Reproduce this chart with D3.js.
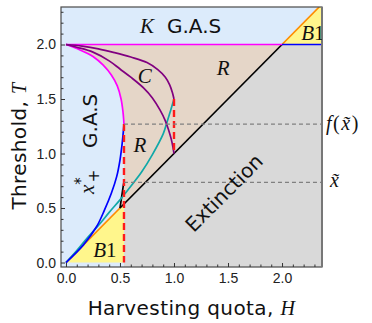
<!DOCTYPE html>
<html>
<head>
<meta charset="utf-8">
<script src="https://cdn.jsdelivr.net/npm/d3@7"></script>
<style>
  body { margin: 0; background: #fff; }
  text { font-family: "DejaVu Sans", sans-serif; fill: #111; }
  .math { font-family: "Liberation Serif", serif; font-style: italic; }
  .tick text { font-family: "Liberation Sans", sans-serif; font-size: 14px; fill: #222; }
</style>
</head>
<body>
<div id="container"></div>
<script>
// window size
let cwW = 372;
let cwH = 323;

// frame of the plot (pixels)
const fL = 61, fR = 322, fT = 7, fB = 267;

/**************************
* Data (H, T)
**************************/
const magentaCurve = [[0,2],[0.13,1.95],[0.25,1.89],[0.345,1.81],[0.42,1.72],[0.475,1.62],[0.51,1.5],[0.528,1.38],[0.535,1.30],[0.537,1.27]];
const blueCurve = [[0,0],[0.16,0.16],[0.284,0.33],[0.356,0.48],[0.42,0.635],[0.47,0.79],[0.5,0.94],[0.52,1.09],[0.537,1.27]];
const tealCurve = [[0,0],[0.1,0.11],[0.2,0.23],[0.3,0.34],[0.4,0.46],[0.5,0.575],[0.6,0.70],[0.7,0.83],[0.8,0.99],[0.9,1.18],[0.93,1.27],[0.97,1.40],[1.0,1.5]];
const purpleOuter = [[0,2],[0.15,1.985],[0.3,1.96],[0.45,1.925],[0.6,1.885],[0.75,1.835],[0.85,1.77],[0.92,1.70],[0.96,1.63],[0.985,1.56],[1.0,1.5]];
const purpleInner = [[0,2],[0.1,1.975],[0.25,1.93],[0.4,1.85],[0.5,1.775],[0.6,1.70],[0.72,1.60],[0.8,1.51],[0.87,1.40],[0.92,1.30],[0.95,1.215],[0.975,1.13],[0.99,1.06],[1.0,1.0]];
const blackKink = [[0.5,0.5],[0.53,0.7],[0.537,0.74]];

const hCrit = 0.537;   // red dashed line
const kLevel = 2;      // T = K
const fxTilde = 1.27;  // f(x~)
const xTilde = 0.735;  // x~
const redTop = [1.5, 1.0]; // red dashed at H = 1

const xTicks = [0, 0.5, 1, 1.5, 2];
const yTicks = [0, 0.5, 1, 1.5, 2];
const minorTicks = d3.range(0.1, 2.35, 0.1).filter(v => Math.abs(v*2 - Math.round(v*2)) > 1e-6);

const xDomain = [-0.046, 2.37];
const yDomain = [-0.041, 2.344];

/**************************
* SVG
**************************/
let svgArea = d3.select("#container")
                .append("svg")
                .attr("width", cwW)
                .attr("height", cwH);

let x = d3.scaleLinear().domain(xDomain).range([fL, fR]);
let y = d3.scaleLinear().domain(yDomain).range([fB, fT]);

const smooth = d3.line().x(d => x(d[0])).y(d => y(d[1])).curve(d3.curveCatmullRom.alpha(0.5));
const straight = d3.line().x(d => x(d[0])).y(d => y(d[1]));

svgArea.append("clipPath").attr("id", "plotClip")
  .append("rect").attr("x", fL).attr("y", fT).attr("width", fR - fL).attr("height", fB - fT);

let plot = svgArea.append("g").attr("clip-path", "url(#plotClip)");

// regions
plot.append("rect")
  .attr("x", fL).attr("y", fT).attr("width", fR - fL).attr("height", fB - fT)
  .attr("fill", "#dcebfb");

plot.append("path")
  .attr("d", straight([[hCrit, yDomain[0]],[hCrit, hCrit],[kLevel, kLevel],[xDomain[1], kLevel],[xDomain[1], yDomain[0]]]) + "Z")
  .attr("fill", "#d9d9d9");

plot.append("path")
  .attr("d", straight([[0,0],[0.5,0.5],[hCrit,hCrit],[hCrit,0]]) + "Z")
  .attr("fill", "#fff68c");

plot.append("path")
  .attr("d", straight([[kLevel,kLevel],[yDomain[1],yDomain[1]],[xDomain[1],yDomain[1]],[xDomain[1],kLevel]]) + "Z")
  .attr("fill", "#fff68c");

let tanPoly = [[0,kLevel],[kLevel,kLevel]].concat(blackKink).concat([[hCrit, fxTilde]]);
plot.append("path")
  .attr("d", straight(tanPoly) + smooth(magentaCurve.slice().reverse()).replace(/^M/, "L") + "Z")
  .attr("fill", "#e5d6c8");

// dashed reference levels
[fxTilde, xTilde].forEach(function(v){
  svgArea.append("line")
    .attr("x1", x(hCrit)).attr("x2", fR)
    .attr("y1", y(v)).attr("y2", y(v))
    .attr("stroke", "#808080").attr("stroke-width", 1.1)
    .attr("stroke-dasharray", "4,3");
});

// curves
function drawCurve(pts, col, gen){
  plot.append("path")
    .attr("d", (gen || smooth)(pts))
    .attr("fill", "none")
    .attr("stroke", col)
    .attr("stroke-width", 1.7);
}
drawCurve([[0,0],[0.5,0.5]], "#ff8c00", straight);
drawCurve([[kLevel,kLevel],[yDomain[1],yDomain[1]]], "#ff8c00", straight);
drawCurve([[0.5,0.5],[kLevel,kLevel]], "#000", straight);
drawCurve(blackKink, "#000", straight);
drawCurve([[0,kLevel],[kLevel,kLevel]], "#ff00ff", straight);
drawCurve([[kLevel,kLevel],[xDomain[1],kLevel]], "#0000ff", straight);
drawCurve(tealCurve, "#10a8a8");
drawCurve(blueCurve, "#0000ff");
drawCurve(magentaCurve, "#ff00ff");
drawCurve(purpleOuter, "#800080");
drawCurve(purpleInner, "#800080");

// red dashed lines
[[[hCrit, fxTilde],[hCrit, 0]], [[1, redTop[0]],[1, redTop[1]]]].forEach(function(seg){
  plot.append("path")
    .attr("d", straight(seg))
    .attr("fill", "none")
    .attr("stroke", "#ff1a1a")
    .attr("stroke-width", 2.4)
    .attr("stroke-dasharray", "7,4");
});

// frame
svgArea.append("rect")
  .attr("x", fL).attr("y", fT).attr("width", fR - fL).attr("height", fB - fT)
  .attr("fill", "none").attr("stroke", "#4a4a4a").attr("stroke-width", 1.2);
svgArea.append("line")
  .attr("x1", fR).attr("x2", fR).attr("y1", fT).attr("y2", fB)
  .attr("stroke", "#777").attr("stroke-width", 2);

// axes (ticks inside)
let xAxis = svgArea.append("g").attr("transform", "translate(0," + fB + ")")
  .call(d3.axisBottom(x).tickValues(xTicks).tickSize(-4).tickPadding(6).tickFormat(d3.format(".1f")));
let xMinor = svgArea.append("g").attr("transform", "translate(0," + fB + ")")
  .call(d3.axisBottom(x).tickValues(minorTicks).tickSize(-2.5).tickFormat(""));
let yAxis = svgArea.append("g").attr("transform", "translate(" + fL + ",0)")
  .call(d3.axisLeft(y).tickValues(yTicks).tickSize(-4).tickPadding(5).tickFormat(d3.format(".1f")));
let yMinor = svgArea.append("g").attr("transform", "translate(" + fL + ",0)")
  .call(d3.axisLeft(y).tickValues(minorTicks).tickSize(-2.5).tickFormat(""));
[xAxis, xMinor, yAxis, yMinor].forEach(g => {
  g.select(".domain").remove();
  g.selectAll("line").attr("stroke", "#333");
});
xAxis.selectAll("text").attr("dy", "0.71em");

// axis titles
let xt = svgArea.append("text")
  .attr("x", (fL + fR)/2).attr("y", 315)
  .attr("text-anchor", "middle").attr("font-size", 20).attr("letter-spacing", 0.4);
xt.append("tspan").text("Harvesting quota, ");
xt.append("tspan").attr("class", "math").text("H");

let yt = svgArea.append("text")
  .attr("transform", "translate(25.5,146) rotate(-90)")
  .attr("text-anchor", "middle").attr("font-size", 20).attr("letter-spacing", 0.4);
yt.append("tspan").text("Threshold, ");
yt.append("tspan").attr("class", "math").text("T");

/**************************
* Region labels
**************************/
let lab = svgArea.append("g").attr("clip-path", "url(#plotClip)");

lab.append("text").attr("class", "math").attr("font-size", 21)
  .attr("x", x(0.685)).attr("y", y(2.106)).text("K");
lab.append("text").attr("font-size", 20)
  .attr("x", x(0.935)).attr("y", y(2.106)).text("G.A.S");

lab.append("text").attr("class", "math").attr("font-size", 21).attr("text-anchor", "middle")
  .attr("x", x(0.73)).attr("y", y(1.647)).text("C");
lab.append("text").attr("class", "math").attr("font-size", 21).attr("text-anchor", "middle")
  .attr("x", x(1.455)).attr("y", y(1.72)).text("R");
lab.append("text").attr("class", "math").attr("font-size", 21).attr("text-anchor", "middle")
  .attr("x", x(0.685)).attr("y", y(1.014)).text("R");

lab.append("text").attr("font-size", 20).attr("text-anchor", "middle")
  .attr("transform", "translate(" + x(0.287) + "," + y(1.30) + ") rotate(-90)")
  .text("G.A.S");

let xs = lab.append("text").attr("font-size", 21).attr("text-anchor", "middle")
  .attr("transform", "translate(" + x(0.262) + "," + y(0.74) + ") rotate(-90)");
xs.append("tspan").attr("class", "math").text("x");
xs.append("tspan").attr("font-size", 15).attr("dy", -8).text("*");
xs.append("tspan").attr("font-size", 15).attr("dx", -5).attr("dy", 13).text("+");

let b1a = lab.append("text").attr("font-size", 21).attr("text-anchor", "middle")
  .attr("x", x(0.36)).attr("y", y(0.05));
b1a.append("tspan").attr("class", "math").text("B");
b1a.append("tspan").attr("font-family", "Liberation Serif").text("1");

let b1b = lab.append("text").attr("font-size", 21).attr("text-anchor", "middle")
  .attr("x", x(2.285)).attr("y", y(2.04));
b1b.append("tspan").attr("class", "math").text("B");
b1b.append("tspan").attr("font-family", "Liberation Serif").text("1");

lab.append("text").attr("font-size", 20).attr("text-anchor", "middle").attr("dy", "0.35em")
  .attr("transform", "translate(" + x(1.463) + "," + y(0.638) + ") rotate(-45)")
  .text("Extinction");

// labels outside on the right
let fl = svgArea.append("text").attr("font-size", 20).attr("letter-spacing", 1.5)
  .attr("x", fR + 4).attr("y", y(fxTilde) + 6);
fl.append("tspan").attr("class", "math").text("f");
fl.append("tspan").attr("font-family", "Liberation Serif").text("(");
fl.append("tspan").attr("class", "math").text("x\u0303");
fl.append("tspan").attr("font-family", "Liberation Serif").text(")");

svgArea.append("text").attr("class", "math").attr("font-size", 20)
  .attr("x", fR + 8).attr("y", y(xTilde) + 5).text("x\u0303");
</script>
</body>
</html>
